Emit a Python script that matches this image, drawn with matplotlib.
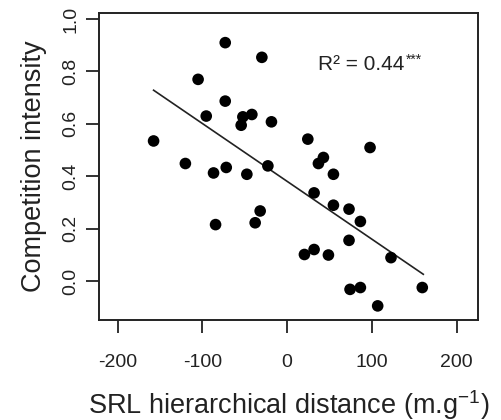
import numpy as np
import matplotlib
matplotlib.use("Agg")
import matplotlib.pyplot as plt

plt.rcParams['font.family'] = ['Liberation Sans', 'DejaVu Sans']
plt.rcParams['mathtext.fontset'] = 'custom'
plt.rcParams['mathtext.rm'] = 'Liberation Sans'
plt.rcParams['mathtext.it'] = 'Liberation Sans:italic'

# values
srl_dist = [-157.5, -120, -105, -73, -29.8, -73, -95.4, -52.2, -41.6, -54.2,
            -18.5, -22.7, -86.8, -71.8, -47.5, -31.8, -37.7, -84.4,
            24.4, 97.8, 42.8, 36.9, 54.6, 31.8, 54.6, 73, 86.4, 73,
            20.4, 31.8, 48.7, 122.5, 74.2, 86.4, 159.4, 106.8]
comp_int = [0.535, 0.449, 0.770, 0.910, 0.854, 0.687, 0.630, 0.627, 0.636, 0.595,
            0.608, 0.440, 0.413, 0.434, 0.408, 0.268, 0.223, 0.216,
            0.542, 0.510, 0.472, 0.449, 0.408, 0.337, 0.290, 0.275, 0.228, 0.156,
            0.102, 0.121, 0.100, 0.090, -0.031, -0.024, -0.024, -0.094]

# fitted line as drawn
line_x = [-157.5, 160.6]
line_intercept = 0.381
line_slope = -0.002207

x_ticks = [-200, -100, 0, 100, 200]
y_ticks = [0.0, 0.2, 0.4, 0.6, 0.8, 1.0]

fig = plt.figure(figsize=(5.02, 4.2), dpi=100)
ax = fig.add_axes([0.197, 0.238, 0.755, 0.731])

ax.scatter(srl_dist, comp_int, s=70, color='black', edgecolors='none', zorder=3)
lx = np.array(line_x)
ax.plot(lx, line_intercept + line_slope * lx, color='#222222', lw=1.2)

ax.set_xlim(-222, 225)
ax.set_ylim(-0.148, 1.023)
ax.set_xticks(x_ticks)
ax.set_xticklabels([str(t) for t in x_ticks])
ax.set_yticks(y_ticks)
ax.set_yticklabels([f'{t:.1f}' for t in y_ticks], rotation=90, va='center')

ax.tick_params(direction='out', length=9.5, width=1.3, labelsize=14,
               colors='#222222')
ax.tick_params(axis='x', pad=15)
ax.tick_params(axis='y', pad=4.5)
for sp in ax.spines.values():
    sp.set_linewidth(1.4)
    sp.set_color('#222222')

ax.set_xlabel('SRL hierarchical distance (m.g$^{-1}$)', fontsize=19.5, labelpad=12,
              color='#222222')
ax.set_ylabel('Competition intensity', fontsize=19.5, labelpad=11, color='#222222')

ax.text(36.5, 0.828, 'R² = 0.44', fontsize=15, va='center', ha='left', color='#222222')
ax.text(140, 0.845, '***', fontsize=10, va='center', ha='left', color='#222222')

fig.savefig('out.png', dpi=100)
